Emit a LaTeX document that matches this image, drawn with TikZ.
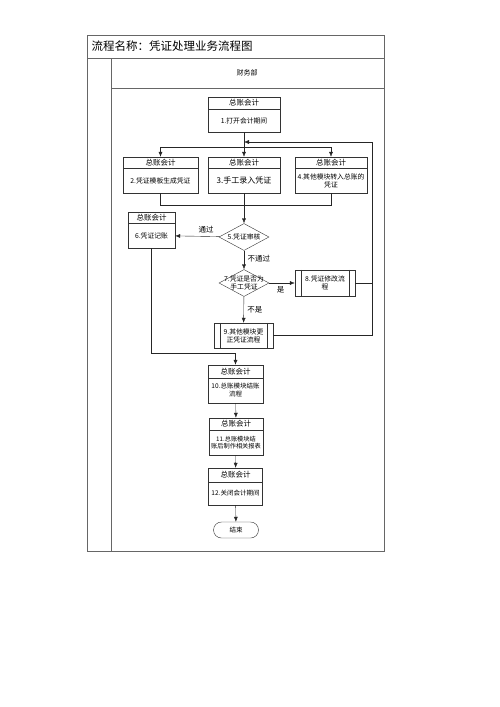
\documentclass[tikz,border=0pt]{standalone}
\usepackage{fontspec}
\setmainfont{Noto Sans CJK SC}
\usetikzlibrary{shapes.geometric,arrows.meta}
\tikzset{
  lane/.style={draw=black!60,line width=0.8pt},
  head/.style={draw=black!80,fill=white,inner sep=0pt,minimum width=72pt,font=\fontsize{7.5}{8.5}\selectfont},
  body/.style={draw=black!80,fill=white,inner sep=1pt,minimum width=72pt,align=center,font=\fontsize{6.8}{8}\selectfont},
  check/.style={diamond,draw=black!80,fill=white,inner sep=0pt,minimum width=50pt,minimum height=27pt},
  sub/.style={draw=black!80,fill=white,inner sep=1pt,align=center,font=\fontsize{6.8}{8}\selectfont},
  flow/.style={draw=black!85,-{Latex[length=5pt,width=4pt]}},
  tag/.style={font=\fontsize{7.5}{9}\selectfont},
}
\begin{document}
\begin{tikzpicture}[x=1pt,y=-1pt]
  \useasboundingbox (0,0) rectangle (500,707);
  % frame
  \draw[lane] (87,35) rectangle (384,551);
  \draw[lane] (87,58) -- (384,58);
  \draw[lane] (111,58) -- (111,551);
  \draw[lane] (111,88) -- (384,88);
  \node[anchor=west,font=\fontsize{11.5}{13}\selectfont] (title) at (88,46.5) {流程名称：凭证处理业务流程图};
  \node[font=\fontsize{7}{8}\selectfont] (dept) at (247,73) {财务部};

  % steps
  \node[head,minimum height=12pt] (h1) at (244,103) {总账会计};
  \node[body,minimum height=23pt] (b1) at (244,120.5) {1.打开会计期间};
  \node[head,minimum width=75pt,minimum height=11pt] (h2) at (160.5,162.5) {总账会计};
  \node[body,minimum width=75pt,minimum height=25pt] (b2) at (160.5,180.5) {2.凭证模板生成凭证};
  \node[head,minimum height=11pt] (h3) at (244,162.5) {总账会计};
  \node[body,minimum height=25pt,font=\fontsize{8}{9}\selectfont] (b3) at (244,180.5) {3.手工录入凭证};
  \node[head,minimum height=11pt] (h4) at (331,162.5) {总账会计};
  \node[body,minimum height=25pt] (b4) at (331,180.5) {4.其他模块转入总账的\\凭证};
  \node[head,minimum width=47pt,minimum height=11pt] (h6) at (151.5,217.5) {总账会计};
  \node[body,minimum width=47pt,minimum height=25pt] (b6) at (151.5,235.5) {6.凭证记账};
  \node[check,label={[align=center,font=\fontsize{6.8}{8}\selectfont]center:5.凭证审核}] (d5) at (244,237) {};
  \node[check,label={[align=center,font=\fontsize{6.8}{7.5}\selectfont]center:7.凭证是否为\\手工凭证}] (d7) at (244,283) {};
  \node[sub,minimum width=60pt,minimum height=26pt] (p8) at (325,283) {8.凭证修改流\\程};
  \node[sub,minimum width=59pt,minimum height=25pt] (p9) at (243.5,335.5) {9.其他模块更\\正凭证流程};
  \node[head,minimum width=55pt,minimum height=13pt] (h10) at (235.5,371.5) {总账会计};
  \node[body,minimum width=55pt,minimum height=25pt,font=\fontsize{6.5}{8}\selectfont] (b10) at (235.5,390.5) {10.总账模块结账\\流程};
  \node[head,minimum width=54pt,minimum height=12pt] (h11) at (236,424) {总账会计};
  \node[body,minimum width=54pt,minimum height=25pt,font=\fontsize{6.2}{7.5}\selectfont] (b11) at (236,442.5) {11.总账模块结\\账后制作相关报表};
  \node[head,minimum width=54pt,minimum height=14pt] (h12) at (235.5,475) {总账会计};
  \node[body,minimum width=54pt,minimum height=23pt,font=\fontsize{6.5}{8}\selectfont] (b12) at (235.5,493.5) {12.关闭会计期间};
  \node[draw=black!80,rounded corners=8pt,minimum width=45pt,minimum height=16pt,inner sep=0pt,font=\fontsize{6.5}{8}\selectfont] (end) at (236,530) {结束};

  % inner bars
  \draw[black!80] ([xshift=6pt]p8.north west) -- ([xshift=6pt]p8.south west);
  \draw[black!80] ([xshift=-6pt]p8.north east) -- ([xshift=-6pt]p8.south east);
  \draw[black!80] ([xshift=6pt]p9.north west) -- ([xshift=6pt]p9.south west);
  \draw[black!80] ([xshift=-6pt]p9.north east) -- ([xshift=-6pt]p9.south east);

  % connectors
  \coordinate (merge) at (244,142);
  \coordinate (split) at (244,147);
  \coordinate (join) at (244,205);
  \coordinate (back) at (372,283);
  \coordinate (turn) at (235.5,353);
  \begin{scope}[draw=black!85]
    \draw (b1) -- (split);
    \draw[flow] (split) -| (h2);
    \draw[flow] (split) -- (h3);
    \draw[flow] (split) -| (h4);
    \draw (b2) |- (join);
    \draw (b4) |- (join);
    \draw[flow] (b3) -- (d5);
    \draw[flow] (d5) -- node[tag,above,pos=0.3] (pass) {通过} (b6);
    \draw[flow] (d5) -- node[tag,right,pos=0.45] (fail) {不通过} (d7);
    \draw[flow] (d7) -- node[tag,below,pos=0.45] (yes) {是} (p8);
    \draw[flow] (d7) -- node[tag,right] (no) {不是} (p9);
    \draw[flow] (p8) -- (back) |- (merge);
    \draw (p9) -| (back);
    \draw[flow] (b6) |- (turn) -- (h10);
    \draw[flow] (b10) -- (h11);
    \draw[flow] (b11) -- (h12);
    \draw[flow] (b12) -- (end);
  \end{scope}
\end{tikzpicture}
\end{document}
